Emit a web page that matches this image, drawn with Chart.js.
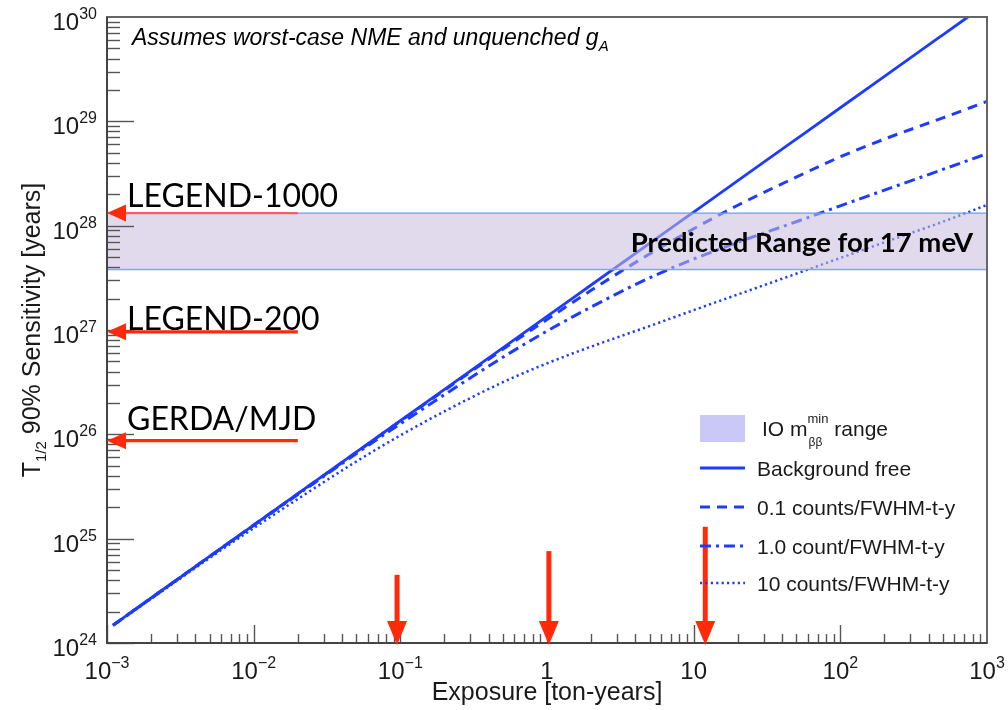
<!DOCTYPE html>
<html>
<head>
<meta charset="utf-8">
<script src="https://cdn.jsdelivr.net/npm/chart.js@4.4.1/dist/chart.umd.min.js"></script>
<style>
  html, body { margin: 0; padding: 0; background: #fff; }
  #wrap { width: 1008px; height: 710px; position: relative; }
</style>
</head>
<body>
<div id="wrap"><canvas id="sens"></canvas></div>
<script>
/* ------------------------------------------------
   data
------------------------------------------------ */
const EXPOSURE = [0.0011, 0.002, 0.005, 0.01, 0.02, 0.05, 0.1, 0.2, 0.5, 1, 2, 5, 10, 20, 50, 100, 200, 500, 1000];
const BG_FREE  = [1.48e24, 2.70e24, 6.75e24, 1.35e25, 2.70e25, 6.75e25, 1.35e26, 2.70e26, 6.75e26, 1.35e27, 2.70e27, 6.75e27, 1.35e28, 2.70e28, 6.75e28, 1.35e29, 2.70e29, 6.75e29, 1.35e30];
const BG_0_1   = [1.48e24, 2.70e24, 6.75e24, 1.35e25, 2.69e25, 6.71e25, 1.34e26, 2.65e26, 6.52e26, 1.26e27, 2.40e27, 5.36e27, 9.33e27, 1.57e28, 2.92e28, 4.57e28, 6.76e28, 1.08e29, 1.55e29];
const BG_1     = [1.48e24, 2.69e24, 6.71e24, 1.34e25, 2.65e25, 6.52e25, 1.26e26, 2.40e26, 5.48e26, 9.77e26, 1.66e27, 3.16e27, 4.79e27, 6.93e27, 1.09e28, 1.55e28, 2.19e28, 3.46e28, 4.90e28];
const BG_10    = [1.47e24, 2.65e24, 6.52e24, 1.26e25, 2.40e25, 5.48e25, 9.77e25, 1.66e26, 3.16e26, 4.79e26, 6.93e26, 1.09e27, 1.55e27, 2.19e27, 3.46e27, 4.90e27, 6.93e27, 1.09e28, 1.58e28];

const X_RANGE  = [1e-3, 1e3];
const Y_RANGE  = [1e24, 1e30];
const IO_BAND  = [3.8e27, 1.32e28];

const X_TICKS    = [1e-3, 1e-2, 1e-1, 1, 10, 1e2, 1e3];
const X_TICK_BASE = ['10', '10', '10', '1', '10', '10', '10'];
const X_TICK_EXP  = ['\u22123', '\u22122', '\u22121', '', '', '2', '3'];
const Y_TICKS    = [1e24, 1e25, 1e26, 1e27, 1e28, 1e29, 1e30];
const Y_TICK_EXP  = ['24', '25', '26', '27', '28', '29', '30'];

const EXPERIMENTS  = ['LEGEND-1000', 'LEGEND-200', 'GERDA/MJD'];
const EXPERIMENT_T = [1.32e28, 9.6e26, 8.7e25];
const ARROW_TAIL_X = 0.02;
const DOWN_ARROW_X   = [0.095, 1.03, 12];
const DOWN_ARROW_TOP = [4.5e24, 7.6e24, 1.3e25];

const LEGEND_LABELS = ['Background free', '0.1 counts/FWHM-t-y', '1.0 count/FWHM-t-y', '10 counts/FWHM-t-y'];

/* ------------------------------------------------
   styles
------------------------------------------------ */
const BLUE = '#1e3cff';
const RED  = '#ff2a0a';
const AXIS = '#555';
const SANS = '"Liberation Sans", Arial, sans-serif';
const CAL  = 'Lato, "Open Sans", sans-serif';

const CURVES = [
  { label: LEGEND_LABELS[0], data: BG_FREE, dash: [],            width: 2.8 },
  { label: LEGEND_LABELS[1], data: BG_0_1,  dash: [10, 7],       width: 3 },
  { label: LEGEND_LABELS[2], data: BG_1,    dash: [11, 5, 3, 5], width: 3 },
  { label: LEGEND_LABELS[3], data: BG_10,   dash: [2.2, 3.2],    width: 2.5 },
];

const pts = (ys) => EXPOSURE.map((e, i) => ({ x: e, y: ys[i] }));

function line(ctx, x0, y0, x1, y1) {
  ctx.beginPath(); ctx.moveTo(x0, y0); ctx.lineTo(x1, y1); ctx.stroke();
}

function arrow(ctx, x0, y0, x1, y1, shaftW, headL, headW, color, shaftColor) {
  const ang = Math.atan2(y1 - y0, x1 - x0);
  const c = Math.cos(ang), s = Math.sin(ang);
  const bx = x1 - headL * c, by = y1 - headL * s;
  ctx.strokeStyle = shaftColor || color;
  ctx.lineWidth = shaftW;
  ctx.lineCap = 'butt';
  line(ctx, x0, y0, bx + 2 * c, by + 2 * s);
  ctx.fillStyle = color;
  ctx.beginPath();
  ctx.moveTo(x1, y1);
  ctx.lineTo(bx + headW * s, by - headW * c);
  ctx.lineTo(bx - headW * s, by + headW * c);
  ctx.closePath();
  ctx.fill();
}

// text with superscript/subscript runs: parts = [[text, size, dy, style, family]]
function runs(ctx, parts, x, y, align) {
  let total = 0;
  const w = parts.map(p => {
    ctx.font = (p[3] || '') + ' ' + p[1] + 'px ' + (p[4] || SANS);
    const m = ctx.measureText(p[0]).width;
    total += m;
    return m;
  });
  let cx = align === 'center' ? x - total / 2 : align === 'right' ? x - total : x;
  ctx.textAlign = 'left';
  ctx.textBaseline = 'alphabetic';
  parts.forEach((p, i) => {
    ctx.font = (p[3] || '') + ' ' + p[1] + 'px ' + (p[4] || SANS);
    ctx.fillText(p[0], cx, y + (p[2] || 0));
    cx += w[i];
  });
  return total;
}

/* ------------------------------------------------
   frame, ticks, labels, annotations
------------------------------------------------ */
const overlay = {
  id: 'overlay',
  afterDatasetsDraw(chart) {
    const { ctx, chartArea: a, scales: { x, y } } = chart;
    ctx.save();

    // inside ticks
    ctx.strokeStyle = AXIS;
    ctx.lineWidth = 1.4;
    for (let p = -3; p < 3; p++) {
      for (let k = 1; k <= 9; k++) {
        const px = Math.round(x.getPixelForValue(k * Math.pow(10, p))) + 0.5;
        line(ctx, px, a.bottom, px, a.bottom - (k === 1 ? 18 : 9));
      }
    }
    for (let p = 24; p < 30; p++) {
      for (let k = 1; k <= 9; k++) {
        const py = Math.round(y.getPixelForValue(k * Math.pow(10, p))) + 0.5;
        line(ctx, a.left, py, a.left + (k === 1 ? 27 : 13), py);
      }
    }

    // frame
    ctx.lineWidth = 2;
    ctx.strokeStyle = '#666';
    ctx.strokeRect(a.left, a.top, a.right - a.left, a.bottom - a.top);
    ctx.strokeStyle = '#444';
    line(ctx, a.left, a.top, a.left, a.bottom + 1);
    line(ctx, a.left - 1, a.bottom, a.right, a.bottom);

    // tick labels
    ctx.fillStyle = '#1a1a1a';
    X_TICKS.forEach((v, i) => {
      const parts = [[X_TICK_BASE[i], 24]];
      if (X_TICK_EXP[i]) parts.push([X_TICK_EXP[i], 16, -11]);
      runs(ctx, parts, x.getPixelForValue(v), a.bottom + 36, 'center');
    });
    Y_TICKS.forEach((v, i) => {
      runs(ctx, [['10', 24], [Y_TICK_EXP[i], 16, -11]], a.left - 10, y.getPixelForValue(v) + 13, 'right');
    });

    // axis titles
    runs(ctx, [['Exposure [ton-years]', 25]], (a.left + a.right) / 2, 700, 'center');
    ctx.save();
    ctx.translate(40, (a.top + a.bottom) / 2);
    ctx.rotate(-Math.PI / 2);
    runs(ctx, [['T', 25], ['1/2', 15, 6], [' 90% Sensitivity [years]', 25]], 0, 0, 'center');
    ctx.restore();

    // header note
    ctx.fillStyle = '#000';
    runs(ctx, [['Assumes worst-case NME and unquenched g', 23, 0, 'italic'], ['A', 15, 6, 'italic']], a.left + 25, 45, 'left');

    // experiment arrows
    const yOff = [-6, -2, -11];
    EXPERIMENTS.forEach((name, i) => {
      const py = y.getPixelForValue(EXPERIMENT_T[i]);
      const tail = x.getPixelForValue(ARROW_TAIL_X);
      arrow(ctx, tail, py, a.left, py, i === 0 ? 2.4 : 3.2, 19, 8.5, RED, i === 0 ? '#f0606a' : RED);
      ctx.fillStyle = '#000';
      runs(ctx, [[name, 32, 0, '', CAL]], a.left + 20, py + yOff[i], 'left');
    });
    DOWN_ARROW_X.forEach((v, i) => {
      const px = x.getPixelForValue(v);
      arrow(ctx, px, y.getPixelForValue(DOWN_ARROW_TOP[i]), px, a.bottom + 2, 5, 24, 10, RED);
    });

    // band label
    const bandMid = (y.getPixelForValue(IO_BAND[0]) + y.getPixelForValue(IO_BAND[1])) / 2;
    ctx.fillStyle = '#000';
    runs(ctx, [['Predicted Range for 17 meV', 27.5, 0, 'bold', CAL]], a.right - 14, bandMid + 11, 'right');

    // legend
    const lx0 = 700, lx1 = 745, tx = 757;
    ctx.fillStyle = '#c9c8f6';
    ctx.fillRect(lx0, 415, lx1 - lx0, 27);
    ctx.fillStyle = '#1a1a1a';
    const w = runs(ctx, [['IO m', 21]], tx + 5, 436, 'left');
    ctx.font = '13px ' + SANS;
    const wSup = ctx.measureText('min').width;
    runs(ctx, [['min', 13]], tx + 5 + w, 423, 'left');
    runs(ctx, [['\u03b2\u03b2', 12]], tx + 5 + w + 1, 446, 'left');
    runs(ctx, [[' range', 21]], tx + 5 + w + wSup, 436, 'left');

    const rowY = [468, 507, 546, 583];
    CURVES.forEach((c, i) => {
      ctx.strokeStyle = BLUE;
      ctx.lineWidth = c.width;
      ctx.setLineDash(c.dash);
      line(ctx, lx0, rowY[i], lx1, rowY[i]);
      ctx.setLineDash([]);
      ctx.fillStyle = '#1a1a1a';
      runs(ctx, [[c.label, 21]], tx, rowY[i] + 8, 'left');
    });

    ctx.restore();
  }
};

/* ------------------------------------------------
   chart
------------------------------------------------ */
const bandEdge = (v) => X_RANGE.map(e => ({ x: e, y: v }));

new Chart(document.getElementById('sens'), {
  type: 'line',
  data: {
    datasets: [
      {
        label: 'IO range',
        data: bandEdge(IO_BAND[1]),
        borderColor: '#6d9ee3',
        borderWidth: 1.3,
        backgroundColor: 'rgba(200,188,222,0.55)',
        fill: '+1',
        pointRadius: 0,
      },
      {
        label: 'IO range low',
        data: bandEdge(IO_BAND[0]),
        borderColor: '#6d9ee3',
        borderWidth: 1.3,
        fill: false,
        pointRadius: 0,
      },
      ...CURVES.map(c => ({
        label: c.label,
        data: pts(c.data),
        borderColor: BLUE,
        borderWidth: c.width,
        borderDash: c.dash,
        borderCapStyle: 'butt',
        fill: false,
        pointRadius: 0,
        cubicInterpolationMode: 'monotone',
      })),
    ],
  },
  options: {
    responsive: true,
    maintainAspectRatio: false,
    animation: false,
    layout: { padding: { top: 17, right: 21, left: 0, bottom: 0 } },
    plugins: { legend: { display: false }, tooltip: { enabled: false } },
    scales: {
      x: {
        type: 'logarithmic', min: X_RANGE[0], max: X_RANGE[1],
        grid: { display: false }, border: { display: false }, ticks: { display: false },
        afterFit(s) { s.height = 67; },
      },
      y: {
        type: 'logarithmic', min: Y_RANGE[0], max: Y_RANGE[1],
        grid: { display: false }, border: { display: false }, ticks: { display: false },
        afterFit(s) { s.width = 107; },
      },
    },
  },
  plugins: [overlay],
});
</script>
</body>
</html>
